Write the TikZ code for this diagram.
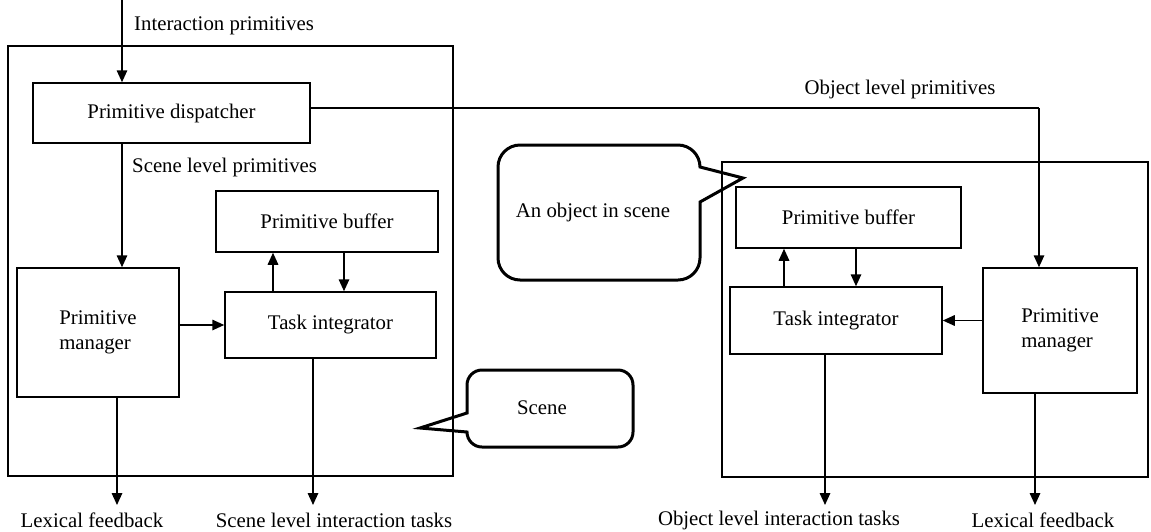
\documentclass[tikz,border=0pt]{standalone}
\usepackage{fontspec}
\setmainfont{Liberation Serif}
\usetikzlibrary{arrows.meta}
\begin{document}
\begin{tikzpicture}[x=1pt,y=-1pt,
  font=\fontsize{20.8}{25}\selectfont,
  box/.style={draw, line width=1.5pt, inner sep=0pt, align=center},
  frame/.style={draw, line width=1.5pt, inner sep=0pt},
  arr/.style={line width=1.6pt, -{Triangle[length=12pt,width=10.5pt]}},
  plain/.style={line width=1.6pt},
  callout/.style={draw, line width=3pt, line join=miter},
  lbl/.style={inner sep=0pt}]
\useasboundingbox (0,0) rectangle (1151,531);

% outer frames
\node[frame, minimum width=445pt, minimum height=430pt] (lframe) at (230.5,261) {};
\node[frame, minimum width=426pt, minimum height=315pt] (rframe) at (935,319.5) {};

% left side boxes
\node[box, minimum width=277pt, minimum height=60pt] (disp) at (171.5,113) {Primitive dispatcher};
\node[box, minimum width=222pt, minimum height=61pt] (lpb) at (327,221.5) {Primitive buffer};
\node[box, minimum width=162pt, minimum height=129pt, align=left] (lpm) at (98,332.5) {Primitive\\manager};
\node[box, minimum width=211pt, minimum height=66pt] (lti) at (330.5,325) {Task integrator};

% right side boxes
\node[box, minimum width=225pt, minimum height=61pt] (rpb) at (848.5,217.5) {Primitive buffer};
\node[box, minimum width=212pt, minimum height=67pt] (rti) at (836,320.5) {Task integrator};
\node[box, minimum width=154pt, minimum height=125pt, align=left] (rpm) at (1060,330.5) {Primitive\\manager};

% helper coordinates
\coordinate (in) at (122,0);
\coordinate (lup) at (273,0);
\coordinate (ldn) at (344,0);
\coordinate (rup) at (784,0);
\coordinate (rdn) at (856,0);
\coordinate (obj) at (1039,108);
\coordinate (o1) at (117,505);
\coordinate (o2) at (313,505);
\coordinate (o3) at (825,505);
\coordinate (o4) at (1035,505);

% connectors
\draw[arr] (in) -- (disp.north -| in);
\draw[arr] (disp.south -| in) -- (lpm.north -| in);
\draw[plain] (disp.east |- obj) -- (obj);
\draw[arr] (obj) -- (rpm.north -| obj);
\draw[arr] (lpm.east |- lti) -- (lti.west);
\draw[arr] (lti.north -| lup) -- (lpb.south -| lup);
\draw[arr] (lpb.south -| ldn) -- (lti.north -| ldn);
\draw[arr] (lpm.south -| o1) -- (o1);
\draw[arr] (lti.south -| o2) -- (o2);
\draw[arr] (rti.north -| rup) -- (rpb.south -| rup);
\draw[arr] (rpb.south -| rdn) -- (rti.north -| rdn);
\draw[arr] (rpm.west |- rti) -- (rti.east);
\draw[arr] (rti.south -| o3) -- (o3);
\draw[arr] (rpm.south -| o4) -- (o4);

% labels
\node[lbl, anchor=west] (lin) at (134,26) {Interaction primitives};
\node[lbl, anchor=west] (lscene) at (132,167) {Scene level primitives};
\node[lbl] (lobj) at (900,89) {Object level primitives};
\node[lbl] (lf1) at (92,520) {Lexical feedback};
\node[lbl] (st) at (334,520) {Scene level interaction tasks};
\node[lbl] (ot) at (779,520) {Object level interaction tasks};
\node[lbl] (lf2) at (1043,520) {Lexical feedback};

% callouts
\draw[callout] (700,202) -- (700,258) .. controls (700,270.1) and (690.1,280) .. (678,280)
  -- (520,280) .. controls (507.9,280) and (498,270.1) .. (498,258)
  -- (498,167) .. controls (498,154.9) and (507.9,145) .. (520,145)
  -- (678,145) .. controls (690.1,145) and (700,154.9) .. (700,167)
  -- (743,178) -- cycle;
\node[lbl] (cobj) at (593,212) {An object in scene};
\draw[callout] (467,413) -- (467,385) .. controls (467,376.7) and (473.7,370) .. (482,370)
  -- (618,370) .. controls (626.3,370) and (633,376.7) .. (633,385)
  -- (633,432) .. controls (633,440.3) and (626.3,447) .. (618,447)
  -- (482,447) .. controls (473.7,447) and (467,440.3) .. (467,432)
  -- (420,428) -- cycle;
\node[lbl] (cscene) at (542,408) {Scene};
\end{tikzpicture}
\end{document}
